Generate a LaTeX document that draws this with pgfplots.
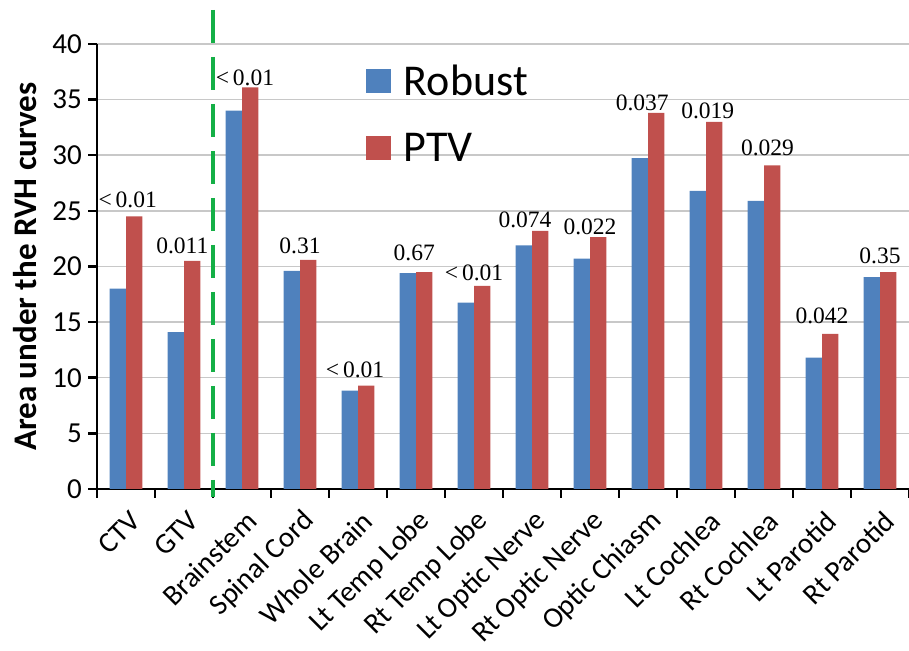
\documentclass[border=0pt]{standalone}
\usepackage{pgfplots}
\pgfplotsset{compat=1.18}
\usepackage{fontspec}
\setmainfont{Carlito}
\newfontfamily\tnr{Liberation Serif}
\definecolor{robust}{RGB}{79,129,189}
\definecolor{ptv}{RGB}{192,80,77}
\definecolor{vgreen}{RGB}{20,175,70}
\definecolor{gridc}{RGB}{200,200,200}
\newcommand{\pv}{\tnr\fontsize{23.5}{23.5}\selectfont}
\begin{document}
\begin{tikzpicture}
\begin{axis}[
  scale only axis, width=812pt, height=445pt,
  xmin=-0.5, xmax=13.5, ymin=0, ymax=40,
  axis x line*=bottom, axis y line*=left,
  axis line style={line width=2.5pt, black, -},
  ytick={0,5,...,40},
  xtick={-0.5,0.5,1.5,2.5,3.5,4.5,5.5,6.5,7.5,8.5,9.5,10.5,11.5,12.5,13.5},
  x tick label as interval,
  xticklabels={CTV,GTV,Brainstem,Spinal Cord,Whole Brain,Lt Temp Lobe,Rt Temp Lobe,Lt Optic Nerve,Rt Optic Nerve,Optic Chiasm,Lt Cochlea,Rt Cochlea,Lt Parotid,Rt Parotid},
  xticklabel style={anchor=east, xshift=11pt, yshift=-17pt, rotate=45, font=\fontsize{29}{29}\selectfont, inner sep=2pt},
  yticklabel style={font=\fontsize{29}{29}\selectfont, inner sep=2pt, xshift=-4pt},
  /pgf/number format/assume math mode=true,
  tick style={line width=2.5pt, black},
  major tick length=9pt, tick align=outside,
  ymajorgrids, grid style={line width=1.5pt, gridc},
  ybar=0pt, bar width=0.283,
  ylabel={Area under the RVH curves},
  ylabel style={font=\bfseries\fontsize{33}{33}\selectfont},
  ylabel shift=10pt,
  clip=false,
  legend style={draw=none, fill=none, at={(rel axis cs:0.331,0.96)}, anchor=north west,
    font=\fontsize{44}{44}\selectfont, row sep=30pt, inner sep=0pt,
    nodes={inner sep=3pt}, /tikz/every odd column/.append style={column sep=10pt}},
  legend cell align=left,
]
\addplot[fill=robust, draw=none, legend image code/.code={\fill[robust] (0pt,-12pt) rectangle (25pt,12pt);}] coordinates {
(0,18.0) (1,14.1) (2,34.0) (3,19.6) (4,8.85) (5,19.4) (6,16.75) (7,21.9) (8,20.7) (9,29.75) (10,26.8) (11,25.9) (12,11.8) (13,19.05)};
\addlegendentry{Robust}
\addplot[fill=ptv, draw=none, legend image code/.code={\fill[ptv] (0pt,-12pt) rectangle (25pt,12pt);}] coordinates {
(0,24.5) (1,20.5) (2,36.1) (3,20.6) (4,9.3) (5,19.5) (6,18.25) (7,23.2) (8,22.65) (9,33.8) (10,33.0) (11,29.1) (12,13.95) (13,19.5)};
\addlegendentry{PTV}
\draw[vgreen, line width=4.5pt, dash pattern=on 33pt off 14pt] (axis cs:1.5,43.06) -- (axis cs:1.5,-0.72);
\node[font=\pv] at (axis cs:0.03,26.0) {<\,0.01};
\node[font=\pv] at (axis cs:0.97,21.9) {0.011};
\node[font=\pv] at (axis cs:2.05,37.0) {<\,0.01};
\node[font=\pv] at (axis cs:3.0,21.9) {0.31};
\node[font=\pv] at (axis cs:3.95,10.7) {<\,0.01};
\node[font=\pv] at (axis cs:4.97,21.2) {0.67};
\node[font=\pv] at (axis cs:6.0,19.4) {<\,0.01};
\node[font=\pv] at (axis cs:6.88,24.2) {0.074};
\node[font=\pv] at (axis cs:8.0,23.55) {0.022};
\node[font=\pv] at (axis cs:8.9,34.7) {0.037};
\node[font=\pv] at (axis cs:10.03,34.0) {0.019};
\node[font=\pv] at (axis cs:11.06,30.7) {0.029};
\node[font=\pv] at (axis cs:12.0,15.6) {0.042};
\node[font=\pv] at (axis cs:13.0,21.0) {0.35};
\coordinate (bl) at (rel axis cs:-0.11946,-0.36404);
\coordinate (tr) at (rel axis cs:1,1.09888);
\end{axis}
\pgfresetboundingbox
\path[use as bounding box] (bl) rectangle (tr);
\end{tikzpicture}
\end{document}
